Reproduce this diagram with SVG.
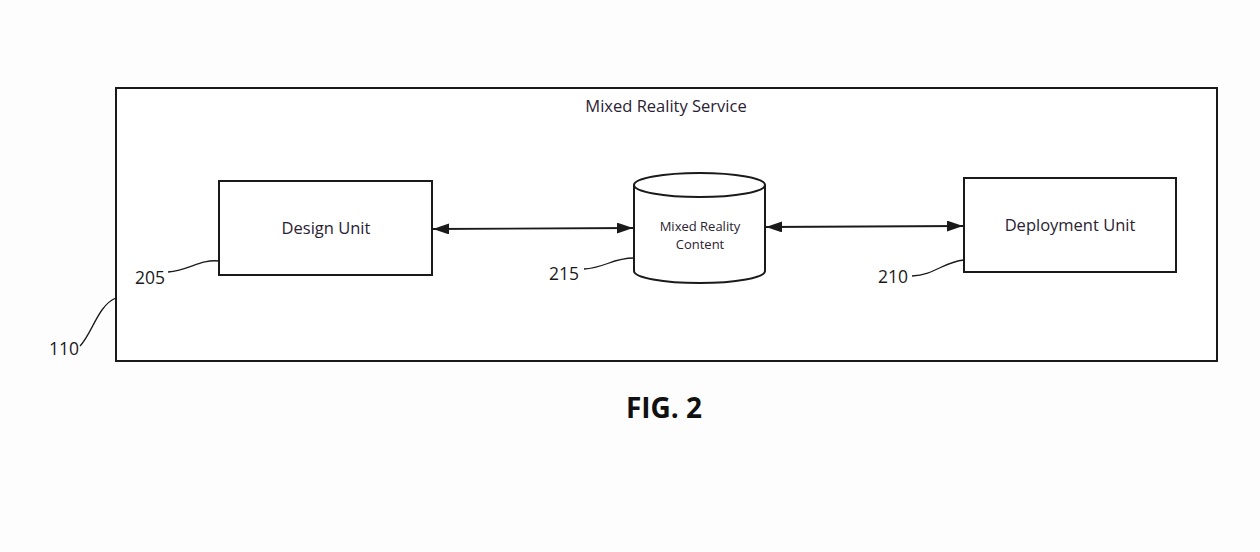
<svg xmlns="http://www.w3.org/2000/svg" width="1260" height="552" viewBox="0 0 1260 552">
<defs>
<style>
.box{fill:#fff;stroke:#1a1a1a;stroke-width:2}
.ln{fill:none;stroke:#1a1a1a;stroke-width:1.8}
.ld{fill:none;stroke:#1a1a1a;stroke-width:1.3}
.t{font-family:"Open Sans","Liberation Sans",sans-serif;fill:#2a2233;text-anchor:middle}
.num{font-family:"Open Sans","Liberation Sans",sans-serif;fill:#1a1a1a;font-size:17.5px}
</style>
<marker id="ah2" viewBox="0 0 16 11" refX="16" refY="5.5" markerWidth="16" markerHeight="11" markerUnits="userSpaceOnUse" orient="auto-start-reverse">
<path d="M0,0 L16,5.5 L0,11 z" fill="#1a1a1a"/>
</marker>
</defs>
<rect width="1260" height="552" fill="#fdfdfe"/>
<g id="service">
<rect class="box" x="116" y="88" width="1101" height="273"/>
<text class="t" x="666" y="112" font-size="16.5">Mixed Reality Service</text>
<path class="ld" d="M80,346 C92,334 98,305 116,298"/>
<text class="num" x="49" y="355">110</text>
</g>
<g id="design">
<rect class="box" x="219" y="181" width="213" height="94"/>
<text class="t" x="326" y="234" font-size="16.5">Design Unit</text>
<path class="ld" d="M168,272 C190,270 200,259 219,261"/>
<text class="num" x="135" y="284">205</text>
</g>
<g id="content">
<path class="box" d="M634,185 L634,271 A65.5,12 0 0 0 765,271 L765,185"/>
<ellipse class="box" cx="699.5" cy="185" rx="65.5" ry="12"/>
<text class="t" x="700" y="231" font-size="13">Mixed Reality</text>
<text class="t" x="700" y="249" font-size="13">Content</text>
<path class="ld" d="M584,269 C605,268 612,258 634,258"/>
<text class="num" x="549" y="280">215</text>
</g>
<g id="deploy">
<rect class="box" x="964" y="178" width="212" height="94"/>
<text class="t" x="1070" y="231" font-size="16.5">Deployment Unit</text>
<path class="ld" d="M912,276 C935,275 943,262 964,260"/>
<text class="num" x="878" y="283">210</text>
</g>
<g id="connectors">
<line class="ln" x1="433" y1="229" x2="633" y2="228" marker-start="url(#ah2)" marker-end="url(#ah2)"/>
<line class="ln" x1="766" y1="227" x2="963" y2="226" marker-start="url(#ah2)" marker-end="url(#ah2)"/>
</g>
<text x="664" y="418" font-family="'Open Sans','Liberation Sans',sans-serif" font-weight="bold" font-size="28" fill="#111" text-anchor="middle">FIG. 2</text>
</svg>
